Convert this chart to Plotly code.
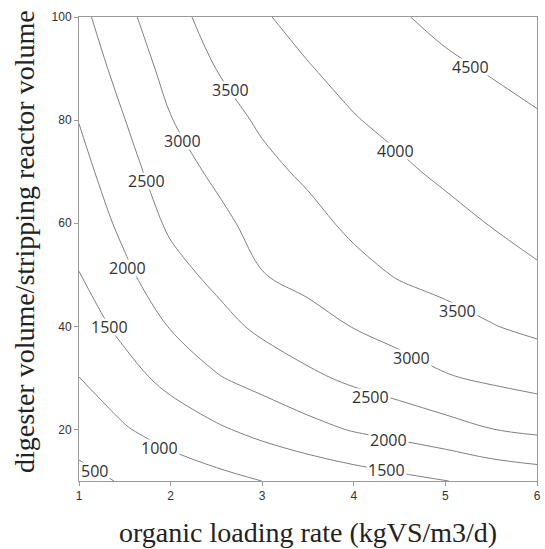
import plotly.graph_objects as go

# organic loading rate (kgVS/m3/d)
olr = [1.0, 1.5, 2.0, 2.5, 3.0, 3.5, 4.0, 4.5, 5.0, 5.5, 6.0]
# digester volume / stripping reactor volume
vol_ratio = [10, 20, 30, 40, 50, 60, 70, 80, 90, 100]

# z values, one row per vol_ratio, columns follow olr
z_y10 = [370, 540, 694, 849, 1002, 1127, 1252, 1377, 1490, 1625, 1720]
z_y20 = [690, 962, 1207, 1429, 1645, 1847, 2036, 2169, 2317, 2491, 2595]
z_y30 = [995, 1318, 1650, 1963, 2176, 2402, 2597, 2762, 2959, 3077, 3182]
z_y40 = [1245, 1630, 2027, 2323, 2606, 2830, 3017, 3197, 3350, 3480, 3603]
z_y50 = [1488, 1902, 2326, 2619, 2985, 3140, 3348, 3539, 3639, 3758, 3945]
z_y60 = [1665, 2121, 2584, 2862, 3183, 3359, 3601, 3735, 3870, 4019, 4137]
z_y70 = [1839, 2311, 2783, 3090, 3374, 3583, 3788, 3931, 4077, 4189, 4301]
z_y80 = [2012, 2494, 2982, 3298, 3571, 3780, 3976, 4114, 4253, 4360, 4464]
z_y90 = [2186, 2687, 3162, 3505, 3780, 3976, 4141, 4290, 4428, 4531, 4625]
z_y100 = [2360, 2873, 3341, 3682, 3961, 4141, 4304, 4467, 4603, 4700, 4785]

z = [z_y10, z_y20, z_y30, z_y40, z_y50, z_y60, z_y70, z_y80, z_y90, z_y100]

x_ticks = [1, 2, 3, 4, 5, 6]
y_ticks = [20, 40, 60, 80, 100]

# contour level labels (text placement, as drawn in the reference)
label_levels = [500, 1000, 1500, 1500, 2000, 2000, 2500, 2500,
                3000, 3000, 3500, 3500, 4000, 4500]
label_x = [1.17, 1.88, 1.335, 4.36, 1.533, 4.38, 1.732, 4.18,
           2.128, 4.63, 2.65, 5.13, 4.45, 5.27]
label_y = [11.9, 16.4, 39.8, 12.1, 51.3, 17.9, 68.1, 26.3,
           75.9, 33.8, 85.8, 42.9, 74.1, 90.3]

fig = go.Figure(
    go.Contour(
        x=olr,
        y=vol_ratio,
        z=z,
        contours=dict(
            start=500, end=4500, size=500,
            coloring="none",
            showlabels=False,
        ),
        line=dict(color="#808080", width=1),
        showscale=False,
        hoverinfo="skip",
    )
)

for lv, lx, ly in zip(label_levels, label_x, label_y):
    fig.add_annotation(
        x=lx, y=ly, xref="x", yref="y",
        text=str(lv),
        showarrow=False,
        font=dict(family="Open Sans", size=16, color="#333333"),
        bgcolor="white",
        borderpad=1,
        height=14,
        valign="middle",
    )

axis_common = dict(
    showgrid=False,
    zeroline=False,
    showline=True,
    linecolor="#9a9a9a",
    linewidth=1,
    mirror=True,
    ticks="outside",
    ticklen=4,
    tickcolor="#9a9a9a",
    automargin=False,
    tickfont=dict(family="Liberation Sans", size=12, color="#333333"),
)

fig.update_xaxes(range=[1, 6], tickvals=x_ticks, **axis_common)
fig.update_yaxes(range=[10, 100], tickvals=y_ticks, **axis_common)

title_font = dict(family="Liberation Serif", size=28, color="#222222")
fig.add_annotation(
    text="organic loading rate (kgVS/m3/d)",
    xref="paper", yref="paper", x=0.5, y=0,
    yanchor="middle", yshift=-51, showarrow=False, font=title_font,
)
fig.add_annotation(
    text="digester volume/stripping reactor volume",
    xref="paper", yref="paper", x=0, y=0.5,
    xanchor="center", yanchor="middle", xshift=-55, yshift=7,
    textangle=-90, showarrow=False, font=title_font,
)

fig.update_layout(
    width=545,
    height=549,
    margin=dict(l=79, r=8, t=17, b=68),
    plot_bgcolor="white",
    paper_bgcolor="white",
    showlegend=False,
)

fig.write_html(
    "out.html",
    config={"displayModeBar": False},
    post_script="document.body.style.margin='0';document.body.style.overflow='hidden';",
)
